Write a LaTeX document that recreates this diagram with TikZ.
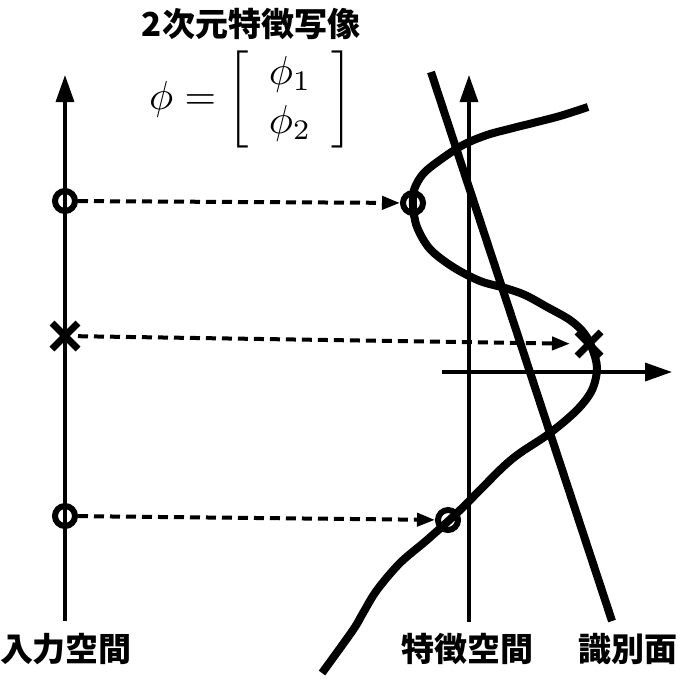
\documentclass[tikz,border=0pt]{standalone}
\usepackage{fontspec}
\usepackage{graphicx}
\newfontfamily\cjk{Noto Sans CJK JP}
\usetikzlibrary{arrows.meta,shapes.misc}
\begin{document}
\begin{tikzpicture}[x=1pt,y=-1pt,
  axis/.style={line width=3.4pt,-{Triangle[length=27pt,width=18pt]}},
  heavy/.style={line width=8pt},
  ring/.style={circle,draw,line width=6pt,minimum size=20pt,inner sep=0pt},
  xmark/.style={cross out,draw,line width=7pt,minimum size=#1,inner sep=0pt},
  xmark/.default=17pt,
  mapto/.style={line width=4pt,dash pattern=on 10pt off 6pt,-{Triangle[length=18pt,width=13pt]}},
  jlabel/.style={font=\cjk\bfseries\fontsize{33}{38}\selectfont,inner sep=0pt}]
\useasboundingbox (0,0) rectangle (680,683);

% input space axis
\coordinate (inB) at (65,621);
\coordinate (inT) at (65,75);
\draw[axis] (inB) -- (inT);

% feature space axes
\coordinate (fvB) at (469,622);
\coordinate (fvT) at (469,75);
\coordinate (fhL) at (442,372);
\coordinate (fhR) at (672,372);
\draw[axis] (fvB) -- (fvT);
\draw[axis] (fhL) -- (fhR);

% mapped curve
\draw[heavy] plot[smooth,tension=0.55] coordinates {
 (588,107) (560,116) (533,123) (513,128) (487,135) (463,145) (440,160)
 (423,174) (414,190) (413,206) (417,227) (430,249) (453,267) (480,281)
 (505,288) (525,295) (547,307) (570,320) (584,333) (592,348) (597,368)
 (592,390) (577,410) (550,433) (520,453) (503,467) (480,490) (457,513)
 (427,540) (400,563) (377,590) (363,613) (353,630) (322,673)};

% decision boundary
\coordinate (dT) at (431,72);
\coordinate (dB) at (612,621);
\draw[heavy] (dT) -- (dB);

% markers in input space
\node[ring] (a1) at (65,201) {};
\node[xmark=19pt] (b1) at (65,336) {};
\node[ring] (c1) at (65,516) {};

% markers in feature space
\node[ring] (a2) at (413,203) {};
\node[xmark] (b2) at (589,344) {};
\node[ring] (c2) at (448,520) {};

% mapping arrows
\draw[mapto] (a1) -- (a2);
\draw[mapto,shorten >=7pt] (b1) -- (b2);
\draw[mapto] (c1) -- (c2);

% texts
\node[jlabel] (title) at (251,24) {2次元特徴写像};
\node[inner sep=0pt] (phi) at (251,99) {\scalebox{4.05}{$\phi=\left[\begin{array}{c}\phi_1\\\phi_2\end{array}\right]$}};
\node[jlabel] (lin) at (66,649) {入力空間};
\node[jlabel] (lfeat) at (467,649) {特徴空間};
\node[jlabel] (lsep) at (628,649) {識別面};
\end{tikzpicture}
\end{document}
